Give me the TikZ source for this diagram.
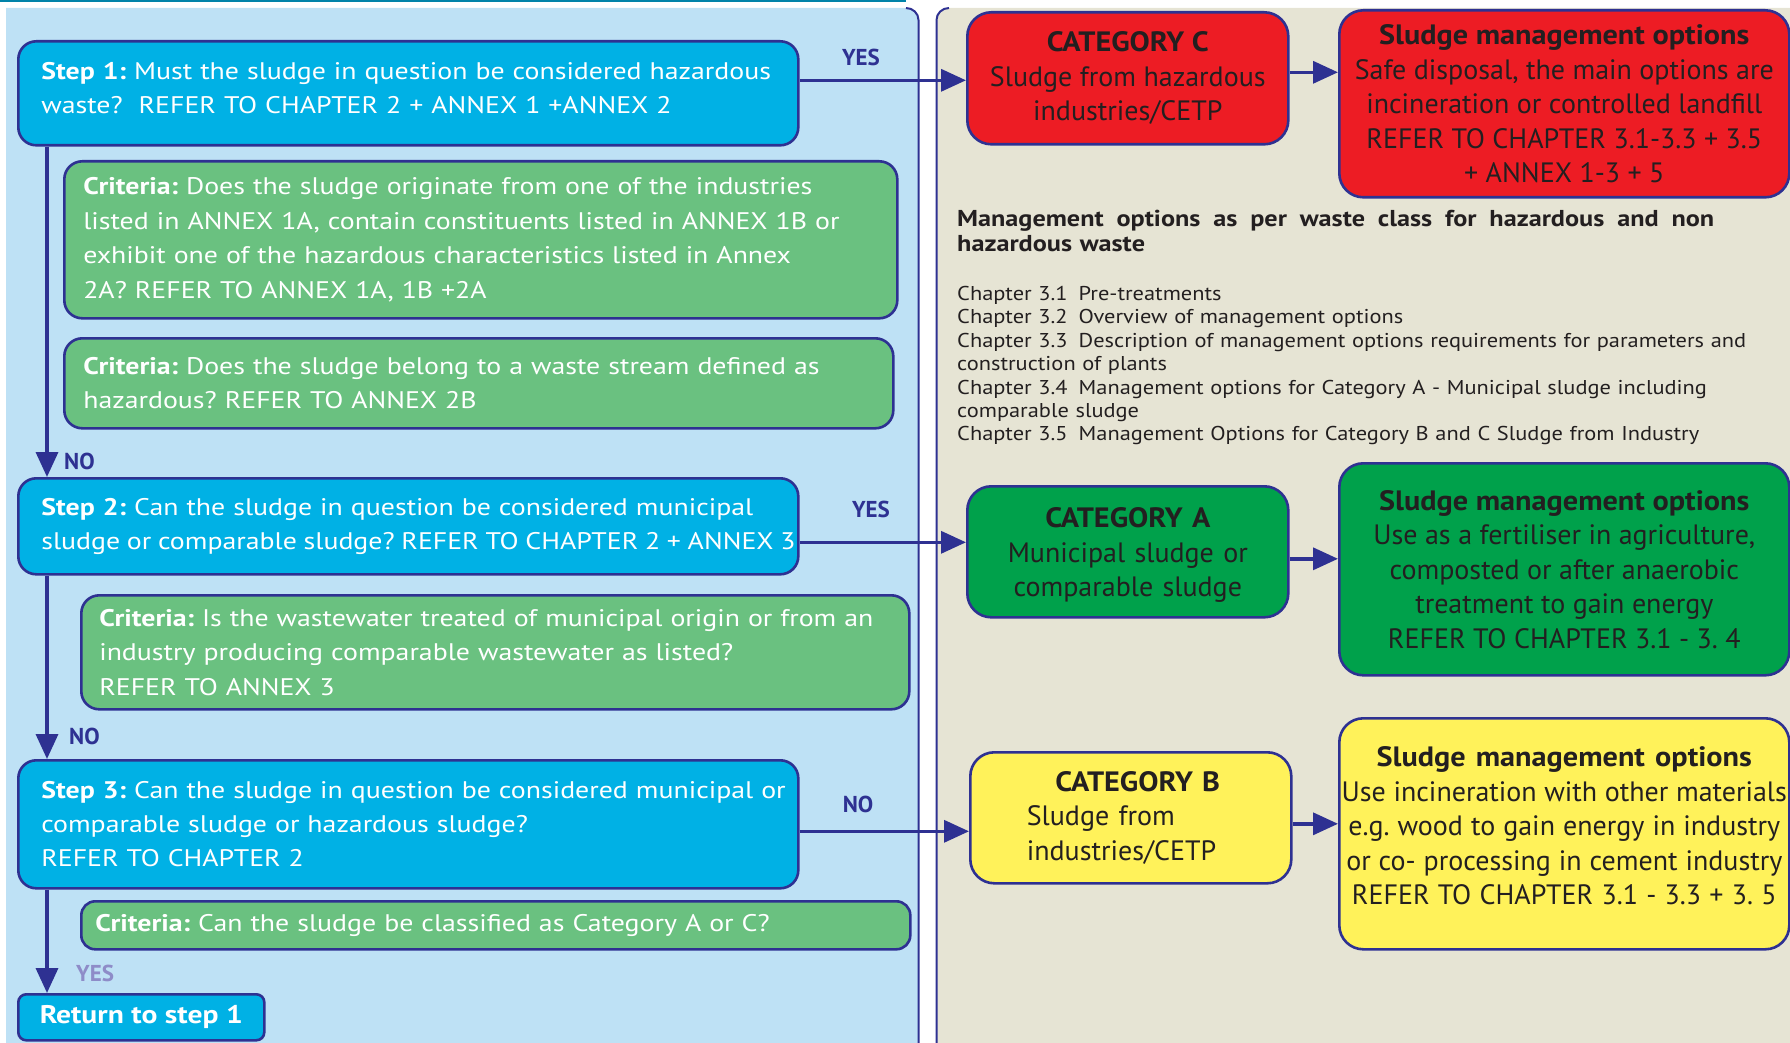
\documentclass[tikz,border=0pt]{standalone}
\usepackage{fontspec}
\setmainfont{PT Sans}
\newfontfamily\leftfont[FakeStretch=1.16]{PT Sans}
\newfontfamily\hdfont[FakeStretch=1.08]{PT Sans}
\newfontfamily\infofont[FakeStretch=1.14]{PT Sans}
\newfontfamily\chapfont[FakeStretch=1.12]{PT Sans}
\usetikzlibrary{arrows.meta}
\definecolor{dblue}{HTML}{2E3192}
\definecolor{panelblue}{HTML}{BEE1F5}
\definecolor{panelbeige}{HTML}{E6E4D4}
\definecolor{stepc}{HTML}{00B1E5}
\definecolor{critc}{HTML}{6AC180}
\definecolor{redc}{HTML}{ED1C24}
\definecolor{greenc}{HTML}{00A14B}
\definecolor{yellowc}{HTML}{FFF25A}
\definecolor{txtd}{HTML}{231F20}
\definecolor{topline}{HTML}{0083A9}
\definecolor{lavender}{HTML}{8E8CC8}
\newcommand\mln[1]{\mbox{#1}}
\newcommand\hd[1]{{\hdfont\bfseries #1}}
\frenchspacing
\begin{document}
\frenchspacing
\begin{tikzpicture}[x=1pt,y=-1pt,
  bx/.style={draw=dblue, line width=2.6pt, rounded corners=18pt, inner sep=0pt, anchor=north west},
  stepbox/.style={bx, fill=stepc, text=white, font=\leftfont\fontsize{24}{34}\selectfont, align=left},
  critbox/.style={bx, fill=critc, text=white, font=\leftfont\fontsize{24}{34.5}\selectfont, align=left},
  catbox/.style={bx, rounded corners=24pt, text=txtd, align=center, font=\fontsize{28}{34.5}\selectfont},
  arr/.style={draw=dblue, line width=3.5pt, -{Triangle[length=25pt,width=22pt]}},
  lbl/.style={text=dblue, font=\fontsize{23}{23}\selectfont\bfseries, inner sep=0pt},
  infotxt/.style={text=txtd, anchor=north west, inner sep=0pt, align=left, text width=830pt}
]
\useasboundingbox (0,0) rectangle (1790,1043);
% header rule and panels
\fill[topline] (0,0) rectangle (906,2.5);
\fill[panelblue] (6,8) -- (906,8) to[out=0,in=90] (918.5,20) -- (918.5,1043) -- (6,1043) -- cycle;
\draw[dblue, line width=2pt] (906,8) to[out=0,in=90] (918.5,20) -- (918.5,1043);
\fill[panelbeige] (949,8) -- (1790,8) -- (1790,1043) -- (936.5,1043) -- (936.5,20) to[out=90,in=180] cycle;
\draw[dblue, line width=2pt] (949,8) to[out=180,in=90] (936.5,20) -- (936.5,1043);

% left column
\node[stepbox, minimum width=780pt, minimum height=104pt, text width=734pt] (s1) at (17,40)
  {\mln{\textbf{Step 1:} Must the sludge in question be considered hazardous}\\ \mln{waste?~ REFER TO CHAPTER 2 + ANNEX 1 +ANNEX 2}\par\vspace*{10pt}};
\node[critbox, minimum width=833pt, minimum height=157pt, text width=795pt] (c1) at (63,160)
  {\mln{\textbf{Criteria:} Does the sludge originate from one of the industries}\\
   \mln{listed in ANNEX 1A, contain constituents listed in ANNEX 1B or}\\
   \mln{exhibit one of the hazardous characteristics listed in Annex}\\
   \mln{2A? REFER TO ANNEX 1A, 1B +2A}};
\node[critbox, minimum width=829pt, minimum height=90pt, text width=791pt] (c2) at (63,337)
  {\mln{\textbf{Criteria:} Does the sludge belong to a waste stream defined as}\\
   \mln{hazardous? REFER TO ANNEX 2B}};
\node[stepbox, minimum width=780pt, minimum height=96pt, text width=734pt] (s2) at (17,477)
  {\mln{\textbf{Step 2:} Can the sludge in question be considered municipal}\\
   \mln{\spaceskip=.28em\relax sludge or comparable sludge? REFER TO CHAPTER 2 + ANNEX 3}};
\node[critbox, minimum width=828pt, minimum height=114pt, text width=792pt] (c3) at (80,594)
  {\mln{\textbf{Criteria:} Is the wastewater treated of municipal origin or from an}\\
   \mln{industry producing comparable wastewater as listed?}\\
   \mln{REFER TO ANNEX 3}};
\node[stepbox, minimum width=780pt, minimum height=128pt, text width=734pt] (s3) at (17,759)
  {\mln{\textbf{Step 3:} Can the sludge in question be considered municipal or}\\
   \mln{comparable sludge or hazardous sludge?}\\
   \mln{REFER TO CHAPTER 2}};
\node[critbox, rounded corners=14pt, minimum width=829pt, minimum height=48pt, text width=801pt] (c4) at (80,900)
  {\mln{\textbf{Criteria:} Can the sludge be classified as Category A or C?}};
\node[bx, rounded corners=8pt, fill=stepc, text=white, font=\leftfont\fontsize{25.5}{30}\selectfont\bfseries,
  minimum width=246pt, minimum height=46pt] (ret) at (17,993) {Return to step 1};

% right column
\node[catbox, fill=redc, minimum width=321pt, minimum height=132pt] (catC) at (966,11)
  {\hd{CATEGORY C}\\ Sludge from hazardous\\ industries/CETP};
\node[catbox, fill=redc, minimum width=450pt, minimum height=187pt] (smC) at (1338,9)
  {\hd{Sludge management options}\\ Safe disposal, the main options are\\ incineration or controlled landfill\\ REFER TO CHAPTER 3.1-3.3 + 3.5\\ + ANNEX 1-3 + 5};
\node[catbox, fill=greenc, text width=300pt, minimum width=321pt, minimum height=131pt] (catA) at (966,485)
  {\hd{CATEGORY A}\\ Municipal sludge or\\ comparable sludge\par\vspace*{-7pt}};
\node[catbox, fill=greenc, minimum width=450pt, minimum height=212pt] (smA) at (1338,462)
  {\hd{Sludge management options}\\ Use as a fertiliser in agriculture,\\ composted or after anaerobic\\ treatment to gain energy\\ REFER TO CHAPTER 3.1 - 3. 4};
\node[catbox, fill=yellowc, align=left, text width=208pt, minimum width=321pt, minimum height=131pt] (catB) at (969,751)
  {\makebox[222pt][c]{\hd{CATEGORY B}}\\ Sludge from\\ industries/CETP};
\node[catbox, fill=yellowc, text width=449pt, minimum width=450pt, minimum height=231pt] (smB) at (1338,717)
  {\spaceskip=0pt\relax\hd{Sludge management options}\\ Use incineration with other materials\\ e.g. wood to gain energy in industry\\ or co- processing in cement industry\\ REFER TO CHAPTER 3.1 - 3.3 + 3. 5\par\vspace*{16pt}};

% info text
\node[infotxt, font=\infofont\fontsize{23}{25}\selectfont\bfseries] (mgmt) at (957,210)
  {\makebox[757pt][s]{\spaceskip=.2em plus 1fil\relax Management options as per waste class for hazardous and non}\\ hazardous waste};
\node[infotxt, font=\chapfont\fontsize{20}{23.4}\selectfont] (chap) at (957,286)
  {Chapter 3.1\hspace{11pt}Pre-treatments\\
   Chapter 3.2\hspace{11pt}Overview of management options\\
   Chapter 3.3\hspace{11pt}Description of management options requirements for parameters and\\
   construction of plants\\
   Chapter 3.4\hspace{11pt}Management options for Category A - Municipal sludge including\\
   comparable sludge\\
   Chapter 3.5\hspace{11pt}Management Options for Category B and C Sludge from Industry};

% connectors
\draw[arr] ([yshift=13pt]s1.east) -- ([yshift=13pt]s1.east -| catC.west);
\draw[arr] ([yshift=-16pt]s2.east) -- ([yshift=-16pt]s2.east -| catA.west);
\draw[arr] ([yshift=-7pt]s3.east) -- ([yshift=-7pt]s3.east -| catB.west);
\draw[arr] ([yshift=6pt]catC.east) -- ([yshift=6pt]catC.east -| smC.west);
\draw[arr] ([yshift=-7pt]catA.east) -- ([yshift=-7pt]catA.east -| smA.west);
\draw[arr] ([yshift=-6pt]catB.east) -- ([yshift=-6pt]catB.east -| smB.west);
\draw[arr] ([xshift=30pt]s1.south west) -- ([xshift=30pt]s1.south west |- s2.north);
\draw[arr] ([xshift=30pt]s2.south west) -- ([xshift=30pt]s2.south west |- s3.north);
\draw[arr] ([xshift=30pt]s3.south west) -- ([xshift=30pt]s3.south west |- ret.north);

% labels
\node[lbl] (yes1) at (861,57) {YES};
\node[lbl] (yes2) at (871,509) {YES};
\node[lbl] (no3) at (858,804) {NO};
\node[lbl, anchor=west] (no1) at (64,461) {NO};
\node[lbl, anchor=west] (no2) at (69,736) {NO};
\node[lbl, anchor=west, text=lavender] (yes3) at (76,973) {YES};
\end{tikzpicture}
\end{document}
